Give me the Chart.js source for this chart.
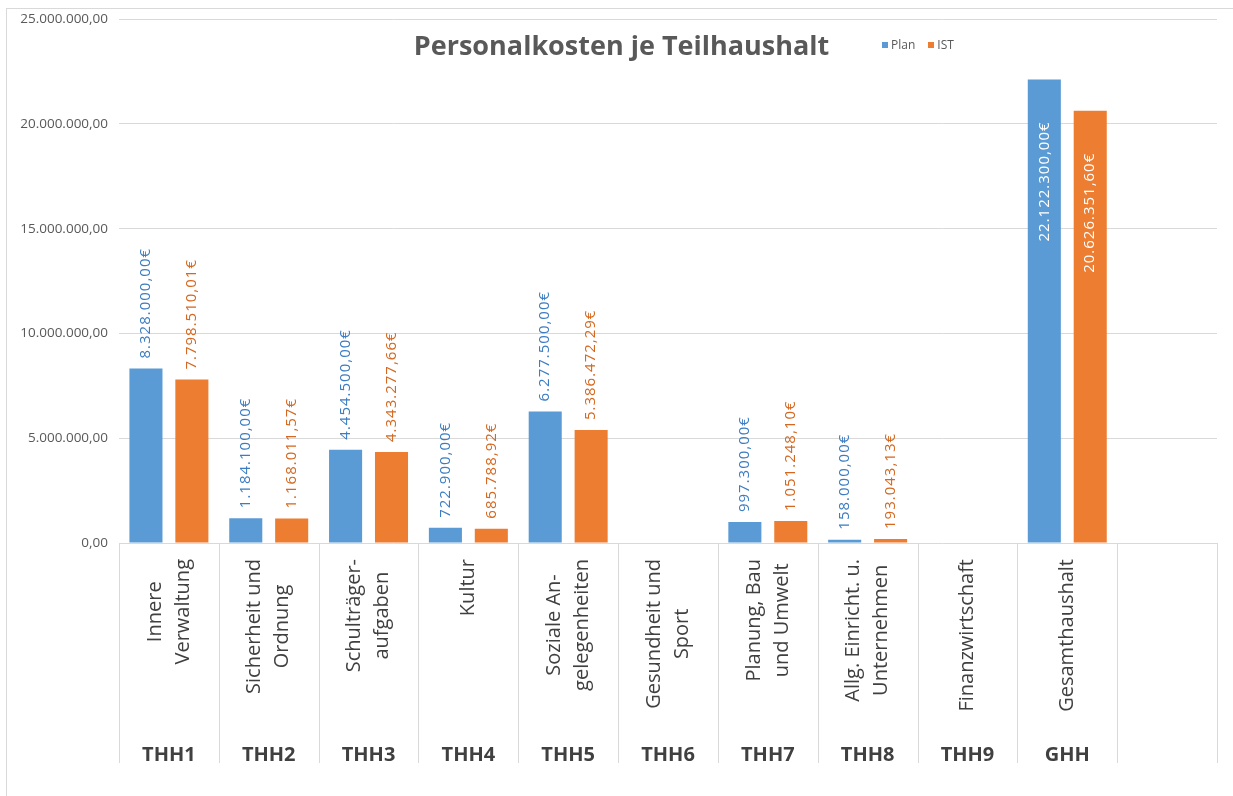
<!DOCTYPE html>
<html lang="de">
<head>
<meta charset="utf-8">
<title>Personalkosten je Teilhaushalt</title>
<script src="https://cdn.jsdelivr.net/npm/chart.js@4.4.1/dist/chart.umd.min.js"></script>
<style>
  body { margin: 0; background: #fff; overflow: hidden; font-family: "Open Sans", sans-serif; }
  #wrap { position: relative; width: 1233px; height: 796px; }
  #rahmen { position: absolute; left: 6px; top: 8px; width: 1300px; height: 900px; border: 1px solid #d9d9d9; pointer-events: none; }
  #titel { position: absolute; left: 0; width: 1243px; top: 26px; text-align: center; font-weight: 700; font-size: 27px; color: #595959; }
  #legende { position: absolute; left: 882px; top: 36px; font-size: 12px; color: #595959; }
  #legende span.box { display: inline-block; width: 6px; height: 6px; margin-right: 3px; vertical-align: 1px; }
  #legende span.eintrag { margin-right: 13px; }
</style>
</head>
<body>
<div id="wrap">
  <canvas id="personalkosten" width="1233" height="796"></canvas>
  <div id="rahmen"></div>
  <div id="titel">Personalkosten je Teilhaushalt</div>
  <div id="legende"></div>
</div>
<script>
var bereiche = [
    ["Innere", "Verwaltung"], ["Sicherheit und", "Ordnung"], ["Schulträger-", "aufgaben"], ["Kultur"],
    ["Soziale An-", "gelegenheiten"], ["Gesundheit und", "Sport"], ["Planung, Bau", "und Umwelt"],
    ["Allg. Einricht. u.", "Unternehmen"], ["Finanzwirtschaft"], ["Gesamthaushalt"], [""]
];
var teilhaushalte = ["THH1", "THH2", "THH3", "THH4", "THH5", "THH6", "THH7", "THH8", "THH9", "GHH", ""];
var plan = [8328000.00, 1184100.00, 4454500.00, 722900.00, 6277500.00, null, 997300.00, 158000.00, null, 22122300.00, null];
var ist = [7798510.01, 1168011.57, 4343277.66, 685788.92, 5386472.29, null, 1051248.10, 193043.13, null, 20626351.60, null];
var yTicks = [0, 5000000, 10000000, 15000000, 20000000, 25000000];

var farbePlan = '#5B9BD5';
var farbeIst = '#ED7D31';
var schrift = '"Open Sans", sans-serif';

function formatDe(wert) {
    var teile = Number(wert).toFixed(2).split('.');
    var ganz = teile[0].replace(/\B(?=(\d{3})+(?!\d))/g, '.');
    return ganz + ',' + teile[1];
}

// Legende als HTML
var legende = document.getElementById('legende');
[['Plan', farbePlan], ['IST', farbeIst]].forEach(function (e) {
    legende.innerHTML += '<span class="eintrag"><span class="box" style="background:' + e[1] + '"></span>' + e[0] + '</span>';
});

// Werte an die Balken schreiben (gedreht, oberhalb oder innen)
var wertBeschriftung = {
    id: 'wertBeschriftung',
    afterDatasetsDraw: function (chart) {
        var ctx = chart.ctx;
        var area = chart.chartArea;
        var textFarben = ['#3B7CC2', '#D5671E'];
        ctx.save();
        ctx.font = '15px ' + schrift;
        ctx.letterSpacing = '1px';
        ctx.textBaseline = 'middle';
        chart.data.datasets.forEach(function (ds, d) {
            var meta = chart.getDatasetMeta(d);
            meta.data.forEach(function (bar, i) {
                var v = ds.data[i];
                if (v === null || v === undefined) return;
                var text = formatDe(v) + '€';
                var breite = ctx.measureText(text).width;
                ctx.save();
                if (bar.y - 10 - breite > area.top) {
                    ctx.translate(bar.x, bar.y - 10);
                    ctx.rotate(-Math.PI / 2);
                    ctx.textAlign = 'left';
                    ctx.fillStyle = textFarben[d];
                } else {
                    ctx.translate(bar.x, bar.y + 42);
                    ctx.rotate(-Math.PI / 2);
                    ctx.textAlign = 'right';
                    ctx.fillStyle = '#ffffff';
                }
                ctx.fillText(text, 0, 0);
                ctx.restore();
            });
        });
        ctx.restore();
    }
};

// Kategorietexte und Trennlinien unter der Achse
var kategorieAchse = {
    id: 'kategorieAchse',
    afterDraw: function (chart) {
        var ctx = chart.ctx;
        var x = chart.scales.x;
        var x2 = chart.scales.x2;
        var breite = x.width / bereiche.length;
        ctx.save();
        ctx.strokeStyle = '#d9d9d9';
        ctx.lineWidth = 1;
        for (var i = 0; i <= bereiche.length; i++) {
            var px = Math.round(x.getPixelForValue(i) - breite / 2) + 0.5;
            ctx.beginPath();
            ctx.moveTo(px, x.top);
            ctx.lineTo(px, x2.bottom - 33);
            ctx.stroke();
        }
        ctx.font = '20px ' + schrift;
        ctx.fillStyle = '#404040';
        ctx.textAlign = 'center';
        ctx.textBaseline = 'middle';
        var zeilenHoehe = 28;
        bereiche.forEach(function (zeilen, i) {
            var maxW = 0;
            zeilen.forEach(function (z) { maxW = Math.max(maxW, ctx.measureText(z).width); });
            ctx.save();
            ctx.translate(x.getPixelForValue(i), x.top + 16 + maxW / 2);
            ctx.rotate(-Math.PI / 2);
            zeilen.forEach(function (z, j) {
                ctx.fillText(z, 0, (j - (zeilen.length - 1) / 2) * zeilenHoehe);
            });
            ctx.restore();
        });
        ctx.restore();
    }
};

var canvas = document.getElementById('personalkosten');
var chart = new Chart(canvas, {
    type: 'bar',
    data: {
        labels: bereiche,
        datasets: [
            { label: 'Plan', data: plan, backgroundColor: farbePlan, categoryPercentage: 0.92, barPercentage: 0.72 },
            { label: 'IST', data: ist, backgroundColor: farbeIst, categoryPercentage: 0.92, barPercentage: 0.72 }
        ]
    },
    options: {
        responsive: false,
        animation: false,
        layout: { padding: { top: 18, right: 16, left: 0, bottom: 0 } },
        plugins: {
            legend: { display: false },
            title: { display: false },
            tooltip: { enabled: false }
        },
        scales: {
            y: {
                min: 0,
                max: 25000000,
                afterBuildTicks: function (scale) {
                    scale.ticks = yTicks.map(function (v) { return { value: v }; });
                },
                afterFit: function (scale) { scale.width = 119; },
                grid: { color: '#d9d9d9', drawTicks: false },
                border: { display: false },
                ticks: {
                    padding: 11,
                    color: '#595959',
                    font: { family: schrift, size: 13.5 },
                    callback: function (v) { return formatDe(v); }
                }
            },
            x: {
                weight: 0,
                grid: { display: false },
                border: { display: false },
                ticks: { display: false },
                afterFit: function (scale) { scale.height = 175; }
            },
            x2: {
                type: 'category',
                position: 'bottom',
                weight: 1,
                labels: teilhaushalte,
                offset: true,
                grid: { display: false },
                border: { display: false },
                ticks: {
                    autoSkip: false,
                    maxRotation: 0,
                    padding: 17,
                    color: '#404040',
                    font: { family: schrift, size: 20, weight: 'bold' }
                },
                afterFit: function (scale) { scale.height = 78; }
            }
        }
    },
    plugins: [wertBeschriftung, kategorieAchse]
});
</script>
</body>
</html>
